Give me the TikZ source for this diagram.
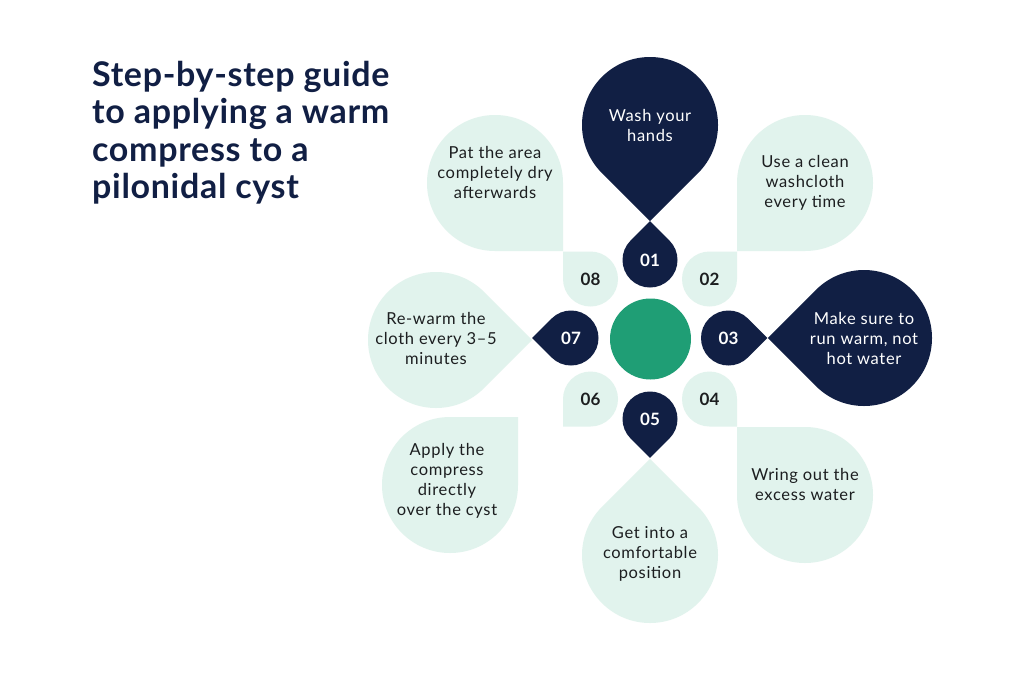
\documentclass[tikz,border=0pt]{standalone}
\usepackage{fontspec}
\setmainfont{Lato}
\newfontfamily\bodyfont[LetterSpace=4]{Lato}
\newfontfamily\ttlfont[LetterSpace=2]{Lato}
\usepackage{tikz}
\usetikzlibrary{positioning}
\definecolor{navy}{RGB}{17,31,68}
\definecolor{mint}{RGB}{225,243,237}
\definecolor{jade}{RGB}{31,158,117}
\definecolor{inkgrey}{RGB}{28,30,32}
% drop shape: centre, direction of the square corner, radius, fill
\newcommand{\drop}[4]{%
  \fill[#4, shift={(#1)}] ({#2+45}:#3) arc[start angle={#2+45}, end angle={#2+315}, radius=#3]
    -- ({#2}:{#3*1.41421}) -- cycle;}
\tikzset{
  ptxt/.style  ={align=center, inner sep=0pt, font=\bodyfont\fontsize{16.5}{20}\selectfont},
  num/.style   ={inner sep=0pt, font=\bfseries\fontsize{17}{20}\selectfont},
  ttl/.style   ={align=left, inner sep=0pt, text=navy, font=\ttlfont\bfseries\fontsize{34}{37.3}\selectfont},
  hub/.style   ={circle, fill=jade, minimum size=81pt, inner sep=0pt},
}
\begin{document}
\begin{tikzpicture}[x=1pt,y=-1pt]
\useasboundingbox[fill=white] (0,0) rectangle (1024,683);
% outer petals
\foreach \cx/\cy/\ang/\col in {650/125/90/navy, 805/183/135/mint, 864/338/180/navy, 805/495/225/mint,
                               650/555/270/mint, 450/485/315/mint, 436/340/0/mint, 495/183/45/mint}{
  \drop{\cx,\cy}{\ang}{68}{\col}
}
% number badges
\foreach \cx/\cy/\ang/\col/\tcol/\lab in {650/260/270/navy/white/01, 709.5/279/315/mint/inkgrey/02,
                                          728.5/338/0/navy/white/03, 709.5/399/45/mint/inkgrey/04,
                                          650/419/90/navy/white/05, 590.5/399/135/mint/inkgrey/06,
                                          571/338/180/navy/white/07, 590.5/279/225/mint/inkgrey/08}{
  \drop{\cx,\cy}{\ang}{27.5}{\col}
  \node[num, text=\tcol] (n\lab) at (\cx,\cy) {\lab};
}
\node[hub] (centre) at (650.5,339) {};
% step texts
\foreach \i/\tx/\ty/\tcol/\lab in {1/650/125/white/{Wash your\\hands},
                                   2/805/183/inkgrey/{Use a clean\\washcloth\\every time},
                                   3/864/338/white/{Make sure to\\run warm, not\\hot water},
                                   4/805/484/inkgrey/{Wring out the\\excess water},
                                   5/650/554/inkgrey/{Get into a\\comfortable\\position},
                                   6/447/481/inkgrey/{Apply the\\compress\\directly\\over the cyst},
                                   7/436/338/inkgrey/{Re-warm the\\cloth every 3–5\\minutes},
                                   8/495/172/inkgrey/{Pat the area\\completely dry\\afterwards}}{
  \node[ptxt, text=\tcol] (t\i) at (\tx,\ty) {\lab};
}
\node[ttl, anchor=north west] (title) at (92,61) {Step-by-step guide\\to applying a warm\\compress to a\\pilonidal cyst};
\end{tikzpicture}
\end{document}
